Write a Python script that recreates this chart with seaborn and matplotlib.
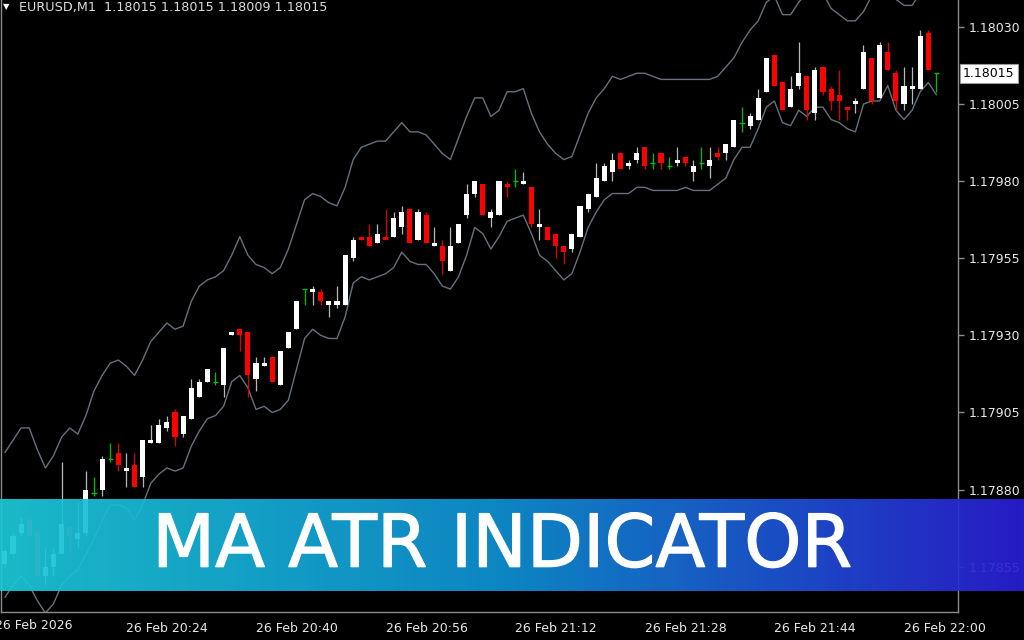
import numpy as np
import pandas as pd
import seaborn as sns
import matplotlib.pyplot as plt
import matplotlib.patheffects as pe
from matplotlib.colors import LinearSegmentedColormap

# EURUSD M1 candles, minutes after 20:00 on 26 Feb
minutes = list(range(9, 125))

opens = [1.17856, 1.17859, 1.17866, 1.17870, 1.17866, 1.17852, 1.17855, 1.17859, 1.17868, 1.17864,
         1.17866, 1.17879, 1.17880, 1.17890, 1.17892, 1.17886, 1.17888, 1.17884, 1.17895, 1.17895,
         1.17900, 1.17905, 1.17898, 1.17903, 1.17910, 1.17915, 1.17915, 1.17914, 1.17930, 1.17932,
         1.17931, 1.17916, 1.17920, 1.17923, 1.17914, 1.17926, 1.17932, 1.17945, 1.17944, 1.17944,
         1.17940, 1.17940, 1.17940, 1.17955, 1.17962, 1.17962, 1.17960, 1.17962, 1.17962, 1.17965,
         1.17971, 1.17961, 1.17969, 1.17959, 1.17959, 1.17951, 1.17960, 1.17969, 1.17976, 1.17979,
         1.17968, 1.17969, 1.17979, 1.17980, 1.17979, 1.17978, 1.17965, 1.17965, 1.17963, 1.17959,
         1.17958, 1.17962, 1.17971, 1.17975, 1.17980, 1.17983, 1.17989, 1.17985, 1.17987, 1.17991,
         1.17986, 1.17989, 1.17985, 1.17986, 1.17988, 1.17983, 1.17986, 1.17985, 1.17989, 1.17989,
         1.17991, 1.17999, 1.17998, 1.18000, 1.18009, 1.18021, 1.18012, 1.18004, 1.18011, 1.18014,
         1.18002, 1.18017, 1.18010, 1.18008, 1.18004, 1.18005, 1.18010, 1.18020, 1.18007, 1.18022,
         1.18015, 1.18005, 1.18010, 1.18010, 1.18028, 1.18015]
highs = [1.17861, 1.17866, 1.17871, 1.17871, 1.17867, 1.17861, 1.17861, 1.17889, 1.17868, 1.17876,
         1.17886, 1.17884, 1.17891, 1.17895, 1.17895, 1.17892, 1.17892, 1.17896, 1.17901, 1.17903,
         1.17904, 1.17906, 1.17904, 1.17916, 1.17916, 1.17919, 1.17918, 1.17926, 1.17931, 1.17932,
         1.17931, 1.17923, 1.17923, 1.17923, 1.17925, 1.17931, 1.17941, 1.17945, 1.17946, 1.17945,
         1.17941, 1.17946, 1.17956, 1.17962, 1.17962, 1.17966, 1.17966, 1.17971, 1.17970, 1.17972,
         1.17971, 1.17971, 1.17970, 1.17965, 1.17961, 1.17965, 1.17966, 1.17979, 1.17980, 1.17979,
         1.17971, 1.17980, 1.17980, 1.17984, 1.17983, 1.17978, 1.17971, 1.17965, 1.17963, 1.17959,
         1.17963, 1.17972, 1.17976, 1.17986, 1.17986, 1.17989, 1.17989, 1.17987, 1.17991, 1.17991,
         1.17989, 1.17989, 1.17988, 1.17991, 1.17988, 1.17987, 1.17991, 1.17991, 1.17991, 1.17992,
         1.18000, 1.18004, 1.18002, 1.18010, 1.18020, 1.18021, 1.18012, 1.18014, 1.18025, 1.18014,
         1.18017, 1.18017, 1.18011, 1.18016, 1.18004, 1.18007, 1.18024, 1.18020, 1.18025, 1.18025,
         1.18016, 1.18017, 1.18017, 1.18029, 1.18029, 1.18015]
lows = [1.17855, 1.17858, 1.17865, 1.17865, 1.17851, 1.17849, 1.17852, 1.17859, 1.17859, 1.17861,
        1.17865, 1.17878, 1.17878, 1.17889, 1.17886, 1.17881, 1.17881, 1.17881, 1.17895, 1.17895,
        1.17899, 1.17894, 1.17897, 1.17903, 1.17910, 1.17915, 1.17914, 1.17910, 1.17930, 1.17925,
        1.17910, 1.17912, 1.17920, 1.17915, 1.17914, 1.17926, 1.17932, 1.17940, 1.17940, 1.17940,
        1.17936, 1.17939, 1.17940, 1.17954, 1.17961, 1.17959, 1.17960, 1.17961, 1.17962, 1.17963,
        1.17960, 1.17961, 1.17960, 1.17959, 1.17950, 1.17951, 1.17960, 1.17968, 1.17975, 1.17969,
        1.17965, 1.17969, 1.17975, 1.17978, 1.17979, 1.17965, 1.17961, 1.17961, 1.17955, 1.17953,
        1.17957, 1.17962, 1.17970, 1.17975, 1.17980, 1.17980, 1.17984, 1.17984, 1.17986, 1.17984,
        1.17984, 1.17984, 1.17984, 1.17985, 1.17985, 1.17980, 1.17984, 1.17981, 1.17987, 1.17987,
        1.17991, 1.17996, 1.17997, 1.18000, 1.18009, 1.18011, 1.18003, 1.18004, 1.18010, 1.18000,
        1.18000, 1.18008, 1.18003, 1.18000, 1.18000, 1.18002, 1.18010, 1.18005, 1.18007, 1.18016,
        1.18003, 1.18003, 1.18005, 1.18010, 1.18016, 1.18009]
closes = [1.17860, 1.17865, 1.17869, 1.17865, 1.17852, 1.17855, 1.17859, 1.17869, 1.17865, 1.17866,
          1.17880, 1.17879, 1.17890, 1.17890, 1.17888, 1.17887, 1.17881, 1.17896, 1.17896, 1.17901,
          1.17902, 1.17897, 1.17904, 1.17913, 1.17915, 1.17919, 1.17915, 1.17926, 1.17931, 1.17930,
          1.17917, 1.17921, 1.17921, 1.17915, 1.17925, 1.17931, 1.17941, 1.17945, 1.17945, 1.17941,
          1.17941, 1.17941, 1.17956, 1.17961, 1.17961, 1.17959, 1.17963, 1.17961, 1.17968, 1.17970,
          1.17960, 1.17970, 1.17960, 1.17960, 1.17954, 1.17959, 1.17966, 1.17976, 1.17980, 1.17969,
          1.17970, 1.17980, 1.17978, 1.17980, 1.17980, 1.17966, 1.17966, 1.17961, 1.17959, 1.17957,
          1.17963, 1.17972, 1.17976, 1.17981, 1.17985, 1.17987, 1.17984, 1.17986, 1.17989, 1.17985,
          1.17986, 1.17986, 1.17985, 1.17987, 1.17986, 1.17985, 1.17986, 1.17987, 1.17988, 1.17992,
          1.18000, 1.17999, 1.18001, 1.18007, 1.18020, 1.18011, 1.18003, 1.18010, 1.18015, 1.18003,
          1.18016, 1.18009, 1.18006, 1.18006, 1.18003, 1.18006, 1.18022, 1.18006, 1.18024, 1.18016,
          1.18006, 1.18011, 1.18011, 1.18027, 1.18016, 1.18015]

# MA ATR bands
upper_band = [1.17892, 1.17896, 1.17900, 1.17900, 1.17893, 1.17887, 1.17891, 1.17897, 1.17900, 1.17898,
              1.17904, 1.17912, 1.17917, 1.17921, 1.17922, 1.17920, 1.17917, 1.17922, 1.17928, 1.17931,
              1.17934, 1.17932, 1.17933, 1.17941, 1.17946, 1.17948, 1.17949, 1.17951, 1.17956, 1.17962,
              1.17956, 1.17953, 1.17952, 1.17950, 1.17952, 1.17958, 1.17966, 1.17974, 1.17976, 1.17975,
              1.17973, 1.17972, 1.17978, 1.17987, 1.17991, 1.17992, 1.17993, 1.17993, 1.17996, 1.17999,
              1.17996, 1.17996, 1.17995, 1.17992, 1.17989, 1.17987, 1.17994, 1.18001, 1.18007, 1.18007,
              1.18001, 1.18003, 1.18009, 1.18009, 1.18010, 1.18002, 1.17996, 1.17992, 1.17989, 1.17987,
              1.17988, 1.17995, 1.18002, 1.18007, 1.18010, 1.18014, 1.18013, 1.18014, 1.18015, 1.18015,
              1.18014, 1.18013, 1.18013, 1.18013, 1.18013, 1.18013, 1.18013, 1.18013, 1.18014, 1.18017,
              1.18020, 1.18025, 1.18029, 1.18032, 1.18038, 1.18040, 1.18034, 1.18034, 1.18038, 1.18041,
              1.18043, 1.18041, 1.18036, 1.18034, 1.18032, 1.18032, 1.18035, 1.18040, 1.18043, 1.18042,
              1.18039, 1.18037, 1.18037, 1.18041, 1.18044, 1.18045]
lower_band = [1.17845, 1.17849, 1.17852, 1.17849, 1.17844, 1.17840, 1.17843, 1.17849, 1.17852, 1.17854,
              1.17859, 1.17864, 1.17870, 1.17875, 1.17875, 1.17874, 1.17870, 1.17875, 1.17882, 1.17885,
              1.17887, 1.17886, 1.17887, 1.17894, 1.17899, 1.17903, 1.17904, 1.17907, 1.17915, 1.17917,
              1.17913, 1.17906, 1.17907, 1.17905, 1.17906, 1.17909, 1.17919, 1.17929, 1.17932, 1.17930,
              1.17929, 1.17929, 1.17936, 1.17947, 1.17949, 1.17948, 1.17949, 1.17950, 1.17952, 1.17957,
              1.17954, 1.17953, 1.17953, 1.17950, 1.17946, 1.17945, 1.17949, 1.17956, 1.17965, 1.17963,
              1.17958, 1.17962, 1.17967, 1.17968, 1.17969, 1.17963, 1.17956, 1.17954, 1.17951, 1.17948,
              1.17950, 1.17957, 1.17965, 1.17970, 1.17974, 1.17976, 1.17976, 1.17976, 1.17978, 1.17978,
              1.17977, 1.17977, 1.17977, 1.17977, 1.17978, 1.17977, 1.17977, 1.17977, 1.17979, 1.17981,
              1.17987, 1.17991, 1.17991, 1.17997, 1.18004, 1.18006, 1.17999, 1.17998, 1.18003, 1.18001,
              1.18004, 1.18004, 1.18000, 1.17999, 1.17997, 1.17996, 1.18005, 1.18006, 1.18006, 1.18011,
              1.18003, 1.18000, 1.18003, 1.18009, 1.18012, 1.18008]

price_ticks = [1.17855, 1.17880, 1.17905, 1.17930, 1.17955, 1.17980, 1.18005, 1.18030]
time_ticks = [24, 40, 56, 72, 88, 104, 120]
time_labels = ["26 Feb 20:24", "26 Feb 20:40", "26 Feb 20:56", "26 Feb 21:12",
               "26 Feb 21:28", "26 Feb 21:44", "26 Feb 22:00"]
first_label = "26 Feb 2026"
header = "EURUSD,M1  1.18015 1.18015 1.18009 1.18015"
last_price = 1.18015
title = "MA ATR INDICATOR"

df = pd.DataFrame({"minute": minutes, "open": opens, "high": highs, "low": lows,
                   "close": closes, "upper": upper_band, "lower": lower_band})

sns.set_theme(style="dark", rc={"axes.facecolor": "black", "figure.facecolor": "black"})
plt.rcParams['font.family'] = ['DejaVu Sans']

fig = plt.figure(figsize=(10.24, 6.4), dpi=100)
ax = fig.add_axes([1 / 1024, 28 / 640, 957 / 1024, 612 / 640])
ax.set_facecolor('black')

band_color = '#66717d'
sns.lineplot(data=df, x="minute", y="upper", ax=ax, color=band_color, lw=1.0, zorder=1)
sns.lineplot(data=df, x="minute", y="lower", ax=ax, color=band_color, lw=1.0, zorder=1)

up = df[df.close > df.open]
down = df[df.close < df.open]
flat = df[df.close == df.open]
w = 0.62

ax.vlines(up.minute, up.low, up.high, color='#b8b8b8', lw=0.9, zorder=2)
ax.bar(up.minute, up.close - up.open, bottom=up.open, width=w, color='white', lw=0, zorder=3)
ax.vlines(down.minute, down.low, down.high, color='#e00000', lw=0.9, zorder=2)
ax.bar(down.minute, down.open - down.close, bottom=down.close, width=w, color='#ff0000', lw=0, zorder=3)
ax.vlines(flat.minute, flat.low, flat.high, color='#00c000', lw=0.9, zorder=2)
ax.hlines(flat.close, flat.minute - w / 2, flat.minute + w / 2, color='#00c000', lw=1.0, zorder=3)

ax.set_xlim(8.5185, 126.667)
ax.set_ylim(1.1784031, 1.1803875)
ax.grid(False)
ax.set_xlabel('')
ax.set_ylabel('')

for side in ['left', 'right', 'bottom']:
    ax.spines[side].set_visible(True)
    ax.spines[side].set_color('#8c8c8c')
    ax.spines[side].set_linewidth(1.0)
ax.spines['top'].set_visible(False)

ax.yaxis.tick_right()
ax.set_yticks(price_ticks)
ax.set_yticklabels([f"{p:.5f}" for p in price_ticks])
ax.set_xticks(time_ticks)
ax.set_xticklabels(time_labels, ha='left')
ax.tick_params(axis='both', colors='#8c8c8c', labelcolor='#e8e8e8', labelsize=9,
               length=4, width=1, direction='out')
ax.tick_params(axis='y', pad=4, left=False, right=True)
ax.tick_params(axis='x', pad=3)

ax.text(7.75, -0.0114, first_label, transform=ax.get_xaxis_transform(), ha='left', va='top',
        color='#e8e8e8', fontsize=9, clip_on=False)

ax.annotate(f"{last_price:.5f}", xy=(1.0, last_price), xycoords=('axes fraction', 'data'),
            xytext=(5, 0), textcoords='offset pixels', ha='left', va='center',
            fontsize=9, color='black',
            bbox=dict(boxstyle='square,pad=0.25', fc='white', ec='#9a9a9a', lw=0.8))

fig.text(3 / 1024, 1 - 7 / 640, "\u25bc", color='white', fontsize=6, ha='left', va='center')
fig.text(19 / 1024, 1 - 8 / 640, header, color='#dcdcdc', fontsize=9.2, ha='left', va='center')

# gradient banner over the chart
bax = fig.add_axes([0, 49 / 640, 1, 92 / 640], zorder=10)
grad = np.linspace(0, 1, 512).reshape(1, -1)
cmap = LinearSegmentedColormap.from_list('banner', ['#1cc8d8', '#0f8fd2', '#2a1ed4'])
bax.imshow(grad, aspect='auto', cmap=cmap, alpha=0.93, extent=[0, 1, 0, 1])
bax.set_axis_off()
fig.text(502 / 1024, 1 - 566.7 / 640, title, color='white', fontsize=52.5,
         ha='center', va='baseline', zorder=11,
         path_effects=[pe.withStroke(linewidth=0.9, foreground='white')])

fig.savefig('out.png', dpi=100, facecolor='black')
